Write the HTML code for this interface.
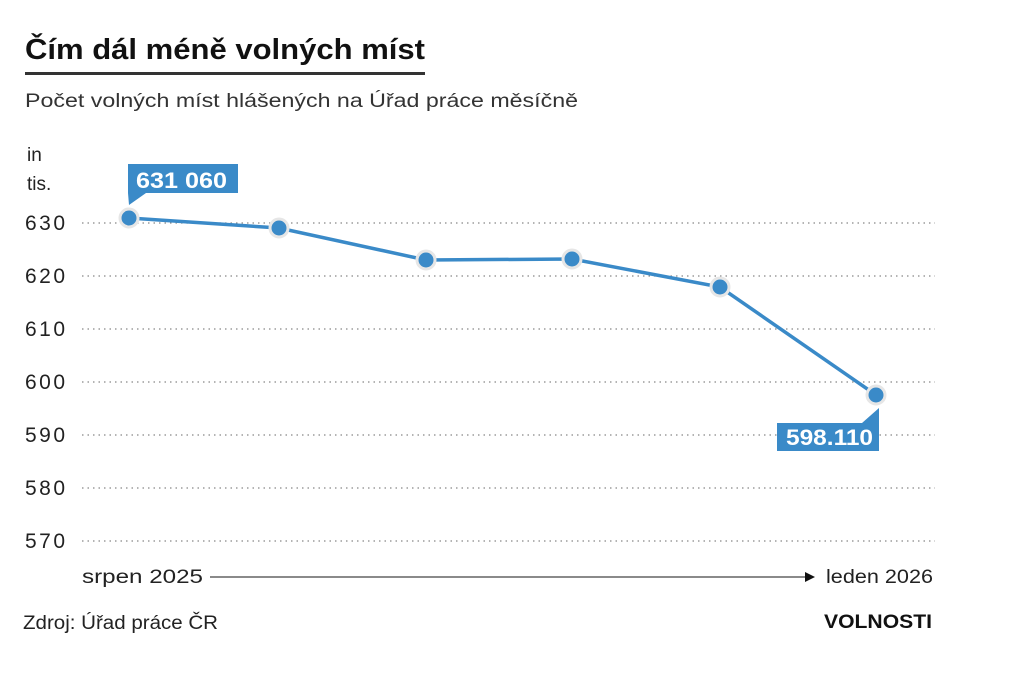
<!DOCTYPE html>
<html><head><meta charset="utf-8"><style>
body{margin:0;background:#fff;}
svg{display:block;font-family:"Liberation Sans",sans-serif;}
</style></head><body>
<svg width="1024" height="683" viewBox="0 0 1024 683" xmlns="http://www.w3.org/2000/svg">
<rect width="1024" height="683" fill="#fff"/>
<text x="25" y="59" font-size="29" font-weight="bold" fill="#111" textLength="400" lengthAdjust="spacingAndGlyphs">Čím dál méně volných míst</text>
<rect x="25" y="72" width="400" height="3" fill="#333"/>
<text x="25" y="107" font-size="19" fill="#333" textLength="553" lengthAdjust="spacingAndGlyphs">Počet volných míst hlášených na Úřad práce měsíčně</text>
<text x="27" y="161" font-size="19" fill="#222">in</text>
<text x="27" y="190" font-size="19" fill="#222">tis.</text>
<g stroke="#888" stroke-width="1.3" stroke-dasharray="1.5 4">
<line x1="82" y1="223" x2="935" y2="223"/><line x1="82" y1="276" x2="935" y2="276"/>
<line x1="82" y1="329" x2="935" y2="329"/><line x1="82" y1="382" x2="935" y2="382"/>
<line x1="82" y1="435" x2="935" y2="435"/><line x1="82" y1="488" x2="935" y2="488"/>
<line x1="82" y1="541" x2="935" y2="541"/>
</g>
<g font-size="21" fill="#222">
<text x="25" y="230" textLength="40">630</text><text x="25" y="283" textLength="40">620</text><text x="25" y="336" textLength="40">610</text>
<text x="25" y="389" textLength="40">600</text><text x="25" y="442" textLength="40">590</text><text x="25" y="495" textLength="40">580</text>
<text x="25" y="548" textLength="40">570</text>
</g>
<polyline points="129,218 279,228 426,260 572,259 720,287 876,395" fill="none" stroke="#3a8ac8" stroke-width="3.5"/>
<g fill="#3a8ac8" stroke="#e6e6e6" stroke-width="3">
<circle cx="129" cy="218" r="9"/><circle cx="279" cy="228" r="9"/><circle cx="426" cy="260" r="9"/>
<circle cx="572" cy="259" r="9"/><circle cx="720" cy="287" r="9"/><circle cx="876" cy="395" r="9"/>
</g>
<polygon points="128,164 238,164 238,193 146,193 129,205 128,193" fill="#3a8ac8"/>
<text x="136" y="188" font-size="22" font-weight="bold" fill="#fff" textLength="91" lengthAdjust="spacingAndGlyphs">631 060</text>
<polygon points="777,423 862,423 879,408 879,451 777,451" fill="#3a8ac8"/>
<text x="786" y="445" font-size="22" font-weight="bold" fill="#fff" textLength="87" lengthAdjust="spacingAndGlyphs">598.110</text>
<text x="82" y="583" font-size="19" fill="#222" textLength="121" lengthAdjust="spacingAndGlyphs">srpen  2025</text>
<line x1="210" y1="577" x2="805" y2="577" stroke="#444" stroke-width="1.3"/>
<polygon points="805,572 815,577 805,582" fill="#111"/>
<text x="826" y="583" font-size="19" fill="#222" textLength="107" lengthAdjust="spacingAndGlyphs">leden 2026</text>
<text x="23" y="629" font-size="19" fill="#222" textLength="195" lengthAdjust="spacingAndGlyphs">Zdroj: Úřad práce ČR</text>
<text x="824" y="628" font-size="19" font-weight="bold" fill="#111" textLength="108" lengthAdjust="spacingAndGlyphs">VOLNOSTI</text>
</svg>
</body></html>
